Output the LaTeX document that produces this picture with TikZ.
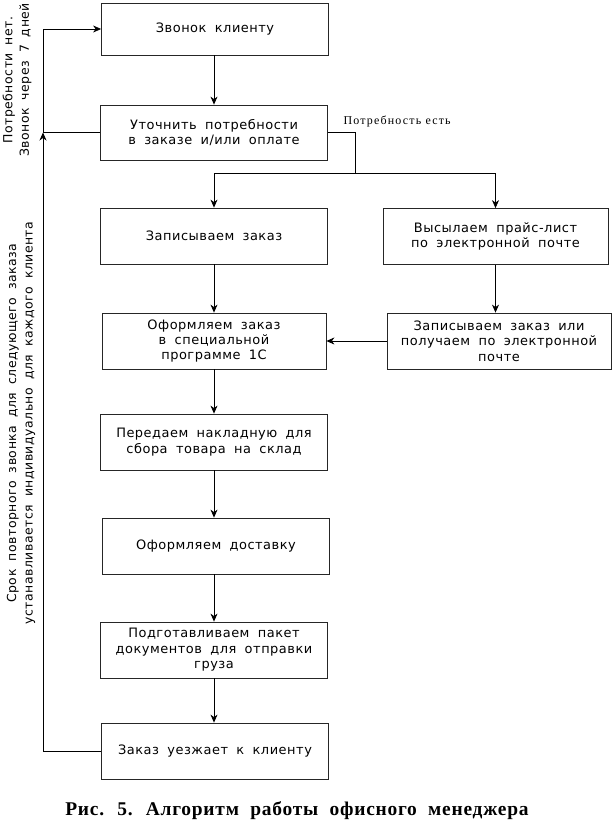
\documentclass[tikz,border=0pt]{standalone}
\usepackage{fontspec}
\setmainfont{DejaVu Sans}[LetterSpace=4,WordSpace=1.8]
\newfontfamily\capfont{Liberation Serif}[LetterSpace=4,WordSpace=2]
\newfontfamily\lblfont{Liberation Serif}[LetterSpace=10]
\usetikzlibrary{arrows.meta}
\begin{document}
\begin{tikzpicture}[x=1bp,y=-1bp,
  box/.style={draw=black!85,line width=0.8bp,minimum width=227bp,minimum height=56bp,
    align=center,font=\fontsize{13}{15.5}\selectfont,inner sep=0pt},
  arr/.style={-{Stealth[length=8bp,width=7bp,inset=2.5bp]},line width=0.8bp},
  ln/.style={line width=0.8bp}]
\useasboundingbox (0,0) rectangle (612,824);
\node[box,minimum height=52bp] (b1) at (215,29) {Звонок клиенту};
\node[box,minimum height=55bp] (b2) at (214,132.5) {Уточнить потребности\\в заказе и/или оплате};
\node[box] (b3) at (214,236) {Записываем заказ};
\node[box,minimum width=225bp] (b4) at (495.5,236.5) {Высылаем прайс-лист\\по электронной почте};
\node[box,minimum width=224bp] (b5) at (214,341) {Оформляем заказ\\в специальной\\программе 1С};
\node[box,minimum width=224bp] (b6) at (499,341) {Записываем заказ или\\получаем по электронной\\почте};
\node[box] (b7) at (214,442) {Передаем накладную для\\сбора товара на склад};
\node[box] (b8) at (216,546) {Оформляем доставку};
\node[box] (b9) at (214,650) {Подготавливаем пакет\\документов для отправки\\груза};
\node[box] (b10) at (215,751) {Заказ уезжает к клиенту};
% junctions
\coordinate (j) at (43,132.5);
\coordinate (r1) at (355,132.5);
\coordinate (r2) at (355,173);
\coordinate (l2) at (214,173);
\coordinate (rr) at (495.5,173);
% connectors
\draw[arr] (b1.south -| b2) -- (b2);
\draw[ln] (b2.east) -- (r1) -- (r2);
\draw[ln] (l2) -- (rr);
\draw[arr] (l2) -- (b3);
\draw[arr] (rr) -- (b4);
\draw[arr] (b3) -- (b5);
\draw[arr] (b4) -- (b4.south |- b6.north);
\draw[arr] (b6) -- (b5);
\draw[arr] (b5) -- (b7);
\draw[arr] (b7) -- (b7.south |- b8.north);
\draw[arr] (b8.south -| b9) -- (b9);
\draw[arr] (b9) -- (b9.south |- b10.north);
\draw[arr] (b10.west) -| (j);
\draw[ln] (b2.west) -- (j);
\draw[arr] (j) |- (b1.west);
% labels
\node[font={\lblfont\fontsize{12}{14}\selectfont},anchor=west] (yes) at (340,121) {Потребность есть};
\node[rotate=90,align=center,font=\fontsize{12.5}{16.5}\selectfont] (no) at (17,80) {Потребности нет.\\Звонок через 7 дней};
\node[rotate=90,align=center,font=\fontsize{12.5}{16.5}\selectfont] (term) at (21,423) {Срок повторного звонка для следующего заказа\\устанавливается индивидуально для каждого клиента};
\node[font={\capfont\bfseries\fontsize{19.5}{22}\selectfont}] (cap) at (297,811) {Рис. 5. Алгоритм работы офисного менеджера};
\end{tikzpicture}
\end{document}
